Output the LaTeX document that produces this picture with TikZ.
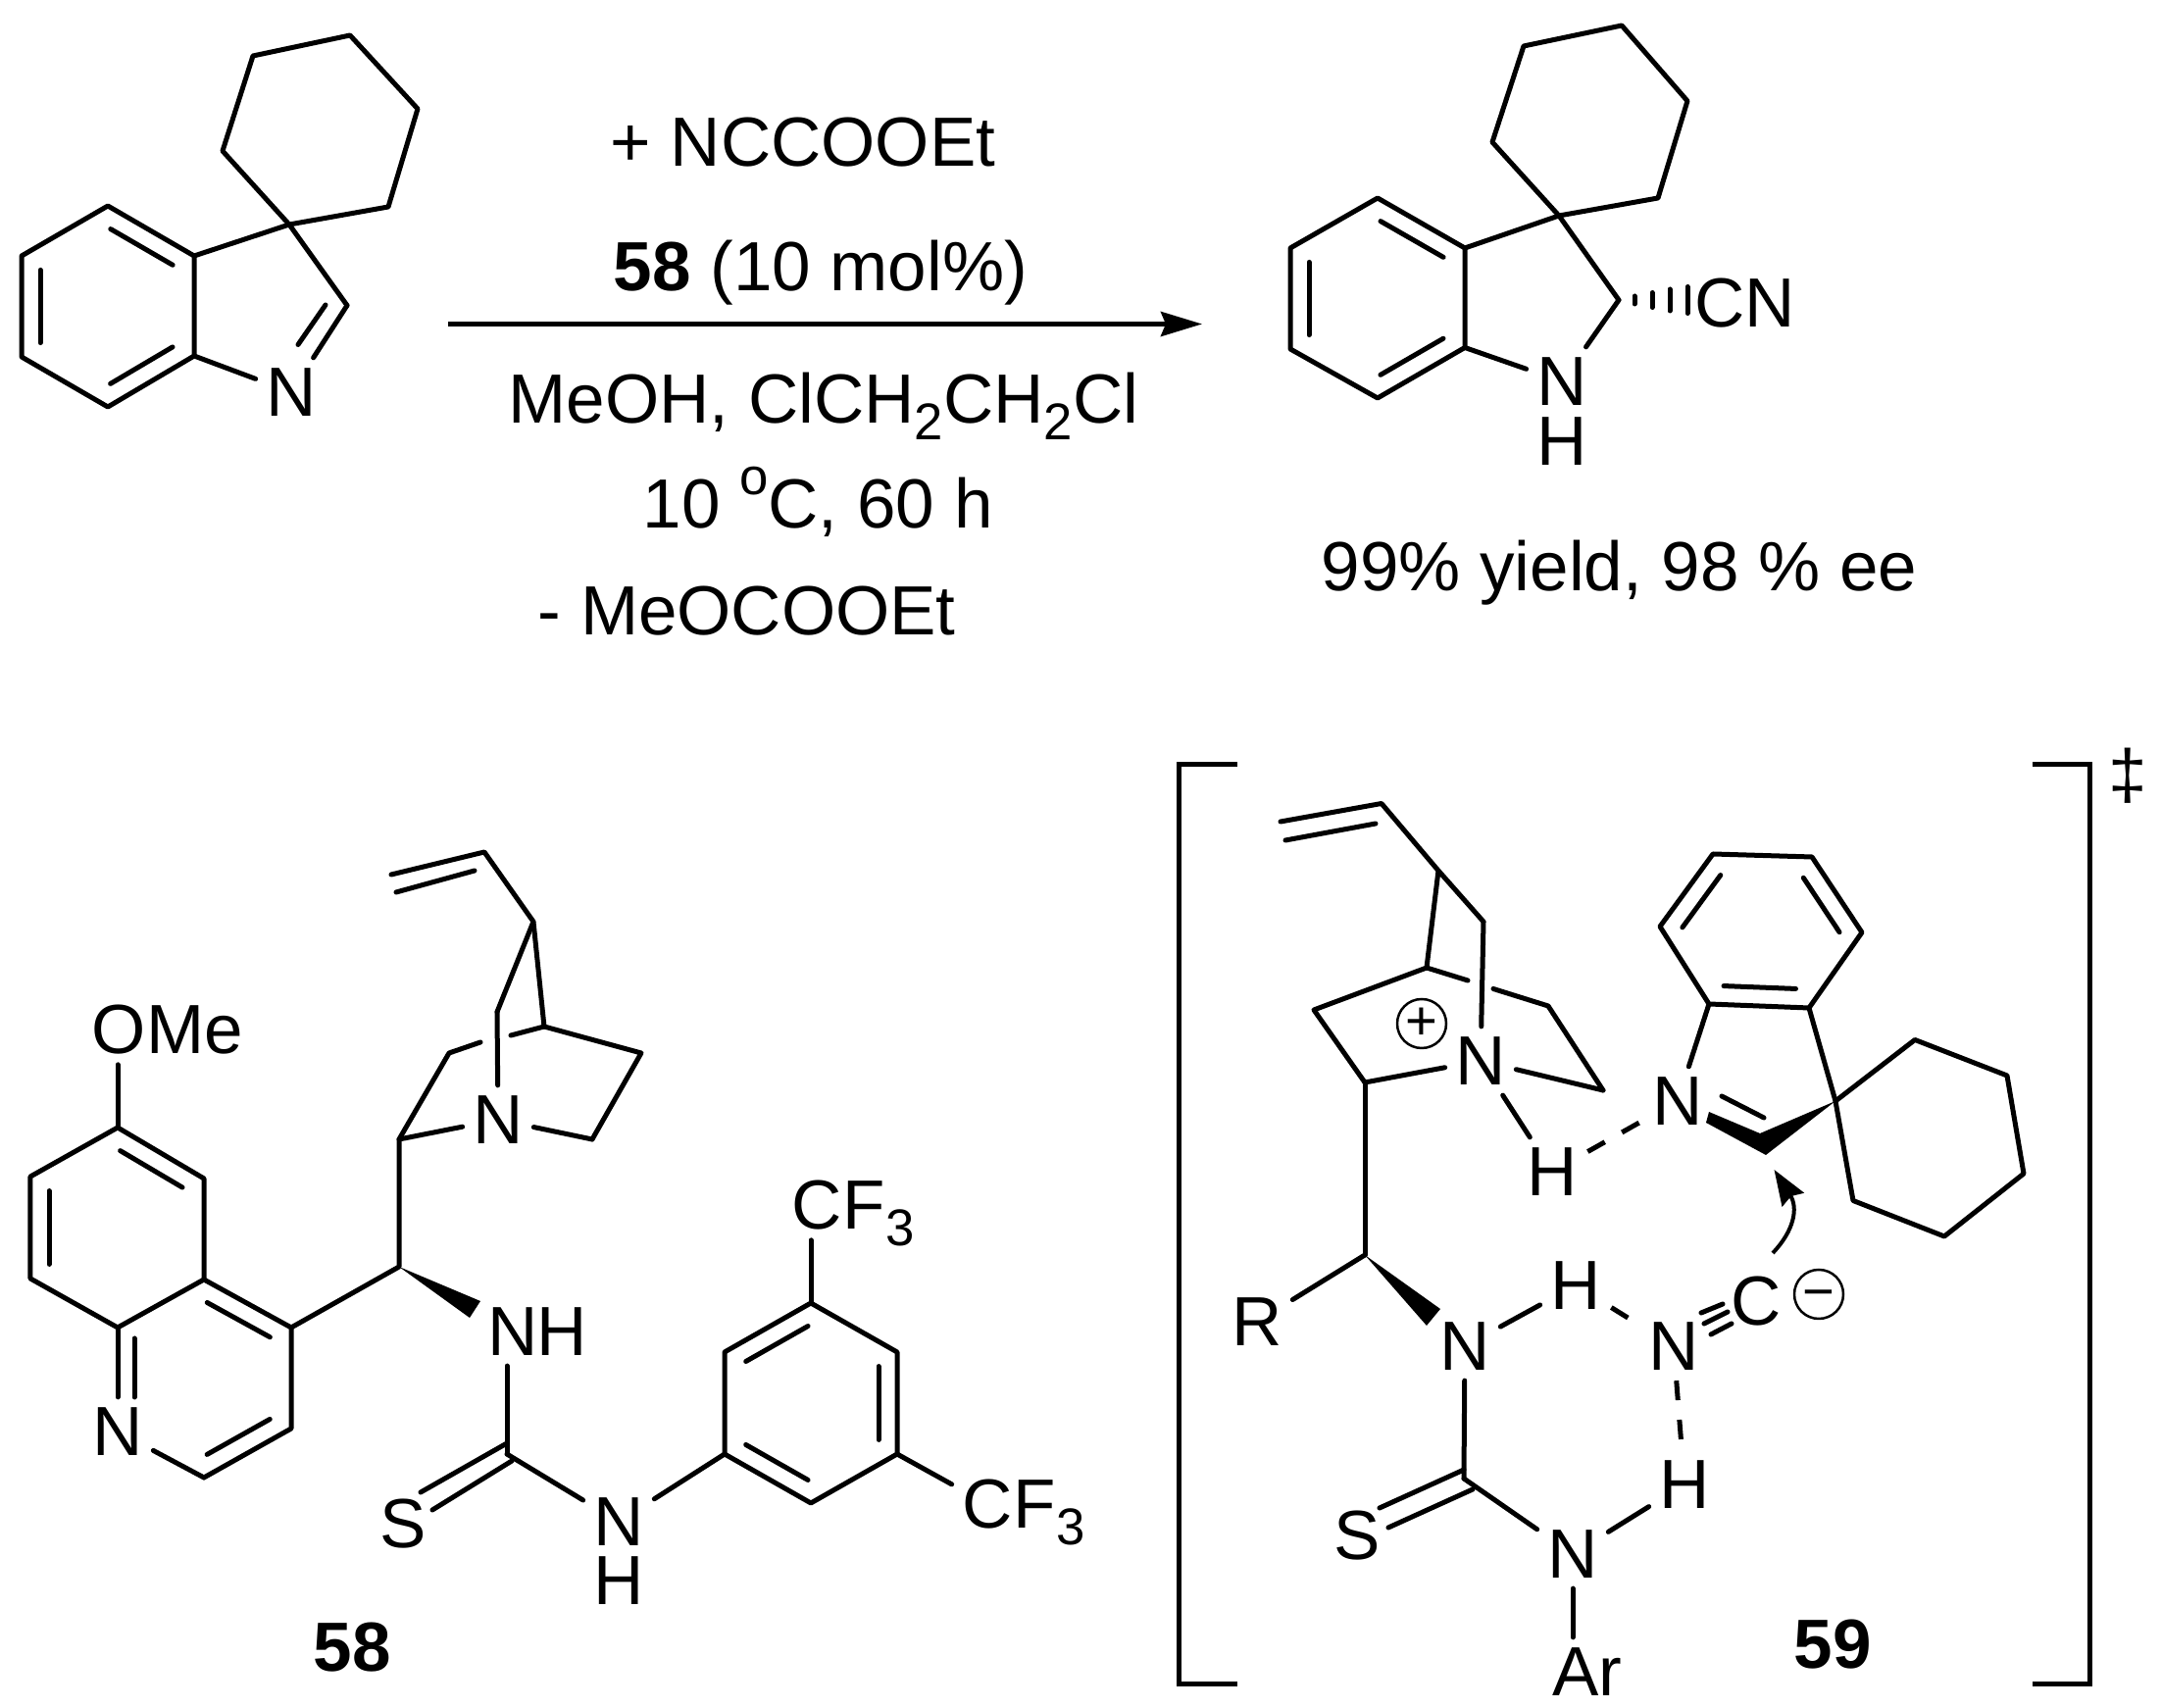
\documentclass[tikz,border=0pt]{standalone}
\usepackage{fontspec}
\setmainfont{Liberation Sans}
\usetikzlibrary{calc,arrows.meta}

\newcommand{\chemsize}{\fontsize{20.2}{24}\selectfont}
\newcommand{\lowidx}[1]{\raisebox{-4.6pt}{\fontsize{15}{15}\selectfont #1}}
\newcommand{\highidx}[1]{\raisebox{9.7pt}{\fontsize{15}{15}\selectfont #1}}
\newcommand{\inbond}[2]{\draw [bond] ($(#1)!0.14!(#2)!0.19cm!90:(#2)$) -- ($(#2)!0.14!(#1)!-0.19cm!90:(#1)$);}

\tikzset{
	bond/.style={line width=.05cm, line cap=round, line join=round},
	hbond/.style={line width=.05cm, dash pattern=on .2cm off .2cm},
	atom/.style={inner sep=.1cm, font=\chemsize},
	txt/.style={inner sep=0pt, anchor=base west, font=\chemsize},
	charge/.style={circle, draw, line width=.025cm, inner sep=0pt, minimum size=.5cm, font=\fontsize{16}{16}\selectfont},
}

\begin{document}
\begin{tikzpicture}[x=1cm,y=-1cm]
	\useasboundingbox (0,0) rectangle (22.04,17.42);

	% reactant
	\coordinate (a1) at (2.58,0.57);
	\coordinate (a2) at (3.57,0.36);
	\coordinate (a3) at (4.26,1.11);
	\coordinate (a4) at (3.96,2.11);
	\coordinate (a5) at (2.95,2.29);
	\coordinate (a6) at (2.27,1.54);
	\coordinate (s1) at (1.10,2.10);
	\coordinate (s2) at (1.98,2.61);
	\coordinate (s3) at (1.98,3.63);
	\coordinate (s4) at (1.10,4.15);
	\coordinate (s5) at (0.22,3.64);
	\coordinate (s6) at (0.22,2.61);
	\coordinate (s7) at (3.54,3.115);
	\coordinate (s8) at (3.32,3.11);
	\coordinate (s9) at (3.04,3.515);
	\node at (2.97,4.00) [atom] (sn) {N};

	\draw [bond] (a1) -- (a2) -- (a3) -- (a4) -- (a5) -- (a6) -- cycle;
	\draw [bond] (s1) -- (s2) -- (s3) -- (s4) -- (s5) -- (s6) -- cycle;
	\draw [bond] (s2) -- (a5) -- (s7);
	\draw [bond] (s7) -- (sn);
	\draw [bond] (s3) -- (sn);
	\draw [bond] (s8) -- (s9);
	\inbond{s2}{s1}
	\inbond{s4}{s3}
	\inbond{s6}{s5}

	% conditions
	\node at (6.22,1.70) [txt] (r1) {+ NCCOOEt};
	\node at (6.25,2.97) [txt] (r2) {\textbf{58} (10 mol\%)};
	\node at (5.18,4.32) [txt] (r3) {MeOH, ClCH\lowidx{2}CH\lowidx{2}Cl};
	\node at (6.55,5.39) [txt] (r4) {10 \highidx{o}C, 60 h};
	\node at (5.48,6.48) [txt] (r5) {- MeOCOOEt};
	\coordinate (r6) at (4.57,3.305);
	\coordinate (r7) at (12.26,3.305);
	\draw [-{Stealth[length=.42cm,width=.25cm,inset=.05cm]}, line width=.05cm] (r6) -- (r7);

	% product
	\coordinate (b1) at (15.54,0.47);
	\coordinate (b2) at (16.54,0.26);
	\coordinate (b3) at (17.21,1.03);
	\coordinate (b4) at (16.91,2.02);
	\coordinate (b5) at (15.90,2.20);
	\coordinate (b6) at (15.22,1.45);
	\coordinate (t1) at (14.05,2.02);
	\coordinate (t2) at (14.94,2.53);
	\coordinate (t3) at (14.94,3.545);
	\coordinate (t4) at (14.05,4.06);
	\coordinate (t5) at (13.16,3.56);
	\coordinate (t6) at (13.16,2.53);
	\coordinate (t7) at (16.51,3.06);
	\node at (15.93,3.89) [atom] (tn) {N};
	\node at (15.93,4.50) [atom, inner sep=0pt] (th) {H};
	\node at (17.80,3.09) [atom] (cn) {CN};
	\node at (13.47,6.03) [txt] (y1) {99\% yield, 98 \% ee};

	\draw [bond] (b1) -- (b2) -- (b3) -- (b4) -- (b5) -- (b6) -- cycle;
	\draw [bond] (t1) -- (t2) -- (t3) -- (t4) -- (t5) -- (t6) -- cycle;
	\draw [bond] (t2) -- (b5) -- (t7);
	\draw [bond] (t7) -- (tn);
	\draw [bond] (t3) -- (tn);
	\inbond{t2}{t1}
	\inbond{t4}{t3}
	\inbond{t6}{t5}
	\draw [bond] ($(t7)+(.16,-.04)$) -- ($(t7)+(.16,.04)$);
	\draw [bond] ($(t7)+(.34,-.075)$) -- ($(t7)+(.34,.075)$);
	\draw [bond] ($(t7)+(.52,-.11)$) -- ($(t7)+(.52,.11)$);
	\draw [bond] ($(t7)+(.70,-.135)$) -- ($(t7)+(.70,.135)$);

	% catalyst
	\coordinate (v1) at (3.99,8.92);
	\coordinate (v2) at (4.94,8.69);
	\coordinate (v3) at (5.44,9.40);
	\coordinate (v4) at (5.07,10.32);
	\coordinate (v5) at (5.55,10.47);
	\coordinate (v6) at (6.54,10.74);
	\coordinate (v7) at (6.04,11.62);
	\coordinate (v8) at (4.58,10.74);
	\coordinate (v9) at (4.07,11.62);
	\coordinate (v10) at (4.07,12.92);
	\coordinate (v11) at (4.04,9.10);
	\coordinate (v12) at (4.84,8.88);
	\coordinate (v13) at (5.21,10.56);
	\coordinate (v14) at (4.90,10.63);
	\coordinate (v15) at (4.90,13.27);
	\coordinate (v16) at (4.79,13.44);
	\node at (5.08,11.42) [atom] (vn) {N};
	\coordinate (q1) at (2.97,13.54);
	\coordinate (q2) at (2.08,13.05);
	\coordinate (q3) at (1.20,13.54);
	\coordinate (q5) at (2.08,15.07);
	\coordinate (q6) at (2.97,14.57);
	\coordinate (q7) at (2.08,12.02);
	\coordinate (q8) at (1.20,11.50);
	\coordinate (q9) at (0.31,12.00);
	\coordinate (q10) at (0.31,13.04);
	\coordinate (q11) at (1.37,13.65);
	\coordinate (q12) at (1.37,14.25);
	\node at (1.20,14.60) [atom] (qn) {N};
	\node at (1.21,10.50) [atom] (qo) {O};
	\node at (1.49,10.75) [txt] (qme) {Me};
	\node at (5.23,13.58) [atom] (u1) {N};
	\node at (5.73,13.58) [atom, inner sep=0pt] (u2) {H};
	\coordinate (u3) at (5.17,14.83);
	\coordinate (u4) at (5.17,14.72);
	\coordinate (u5) at (4.29,15.22);
	\coordinate (u6) at (5.22,14.90);
	\coordinate (u7) at (4.41,15.40);
	\node at (4.11,15.54) [atom] (us) {S};
	\node at (6.31,15.52) [atom] (u8) {N};
	\node at (6.31,16.12) [atom, inner sep=0pt] (u9) {H};
	\coordinate (x1) at (7.39,14.83);
	\coordinate (x2) at (8.27,15.33);
	\coordinate (x3) at (9.15,14.83);
	\coordinate (x4) at (9.15,13.79);
	\coordinate (x5) at (8.27,13.29);
	\coordinate (x6) at (7.39,13.79);
	\node at (8.33,12.29) [atom] (f1) {C};
	\node at (8.59,12.54) [txt] (f2) {F\lowidx{3}};
	\node at (10.07,15.34) [atom] (f3) {C};
	\node at (10.33,15.59) [txt] (f4) {F\lowidx{3}};
	\node at (3.19,17.05) [txt] (l58) {\textbf{58}};

	\draw [bond] (v1) -- (v2) -- (v3) -- (v4);
	\draw [bond] (v11) -- (v12);
	\draw [bond] (v3) -- (v5) -- (v6) -- (v7);
	\draw [bond] (v4) -- (vn);
	\draw [bond] (v7) -- (vn);
	\draw [bond] (v9) -- (vn);
	\draw [bond] (v5) -- (v13);
	\draw [bond] (v14) -- (v8) -- (v9) -- (v10) -- (q1);
	\fill (v10) -- (v15) -- (v16) -- cycle;
	\draw [bond] (q1) -- (q2) -- (q3);
	\draw [bond] (q3) -- (qn);
	\draw [bond] (qn) -- (q5);
	\draw [bond] (q5) -- (q6) -- (q1);
	\draw [bond] (q2) -- (q7) -- (q8) -- (q9) -- (q10) -- (q3);
	\draw [bond] (q8) -- (qo.south -| q8);
	\draw [bond] (q11) -- (q12);
	\inbond{q7}{q8}
	\inbond{q9}{q10}
	\inbond{q1}{q2}
	\inbond{q5}{q6}
	\draw [bond] (u1.south -| u3) -- (u3);
	\draw [bond] (u4) -- (u5);
	\draw [bond] (u6) -- (u7);
	\draw [bond] (u3) -- (u8);
	\draw [bond] (u8) -- (x1);
	\draw [bond] (x1) -- (x2) -- (x3) -- (x4) -- (x5) -- (x6) -- cycle;
	\draw [bond] (x5) -- (f1.south -| x5);
	\draw [bond] (x3) -- (f3);
	\inbond{x5}{x6}
	\inbond{x1}{x2}
	\inbond{x3}{x4}

	% transition state
	\coordinate (k1) at (12.62,7.80);
	\coordinate (k2) at (12.02,7.80);
	\coordinate (k3) at (12.02,17.18);
	\coordinate (k4) at (12.62,17.18);
	\coordinate (k5) at (20.73,7.80);
	\coordinate (k6) at (21.31,7.80);
	\coordinate (k7) at (21.31,17.18);
	\coordinate (k8) at (20.73,17.18);
	\node at (21.70,7.91) [atom] (dg) {‡};
	\draw [line width=.05cm] (k1) -- (k2) -- (k3) -- (k4);
	\draw [line width=.05cm] (k5) -- (k6) -- (k7) -- (k8);

	\coordinate (d1) at (13.06,8.38);
	\coordinate (d2) at (14.09,8.195);
	\coordinate (d3) at (14.67,8.88);
	\coordinate (d4) at (15.13,9.40);
	\coordinate (d5) at (14.55,9.87);
	\coordinate (d6) at (13.40,10.30);
	\coordinate (d7) at (13.92,11.04);
	\coordinate (d8) at (15.79,10.26);
	\coordinate (d9) at (16.35,11.12);
	\coordinate (d10) at (14.97,10.00);
	\coordinate (d11) at (15.23,10.085);
	\coordinate (d12) at (13.11,8.57);
	\coordinate (d13) at (14.03,8.40);
	\node at (15.10,10.82) [atom] (dn) {N};
	\node at (15.83,11.95) [atom] (dh) {H};
	\node at (14.50,10.44) [charge] (dp) {+};
	\node at (17.11,11.23) [atom] (en) {N};
	\coordinate (e1) at (17.43,10.24);
	\coordinate (e2) at (16.93,9.45);
	\coordinate (e3) at (17.47,8.71);
	\coordinate (e4) at (18.48,8.74);
	\coordinate (e5) at (18.99,9.51);
	\coordinate (e6) at (18.45,10.28);
	\coordinate (e7) at (18.72,11.23);
	\coordinate (e8) at (17.43,11.34);
	\coordinate (e9) at (17.95,11.56);
	\coordinate (e10) at (18.01,11.78);
	\coordinate (e11) at (17.40,11.45);
	\coordinate (e12) at (17.56,11.18);
	\coordinate (e13) at (17.99,11.40);
	\coordinate (f5) at (19.53,10.605);
	\coordinate (f6) at (20.47,10.97);
	\coordinate (f7) at (20.64,11.97);
	\coordinate (f8) at (19.83,12.61);
	\coordinate (f9) at (18.90,12.245);
	\coordinate (g1) at (13.92,12.80);
	\coordinate (g2) at (14.69,13.35);
	\coordinate (g3) at (14.55,13.52);
	\node at (12.82,13.48) [atom] (gr) {R};
	\node at (14.94,13.73) [atom] (g4) {N};
	\node at (16.07,13.11) [atom] (g5) {H};
	\node at (17.07,13.73) [atom] (g6) {N};
	\node at (17.91,13.27) [atom] (g7) {C};
	\node at (18.55,13.20) [charge] (gm) {\vphantom{+}−};
	\coordinate (g8) at (17.35,13.39);
	\coordinate (g9) at (17.57,13.30);
	\coordinate (g10) at (17.38,13.50);
	\coordinate (g11) at (17.62,13.38);
	\coordinate (g12) at (17.45,13.61);
	\coordinate (g13) at (17.66,13.50);
	\coordinate (g14) at (18.08,12.78);
	\coordinate (g15) at (18.095,11.93);
	\coordinate (h1) at (14.93,15.08);
	\coordinate (h2) at (14.93,14.99);
	\coordinate (h3) at (14.07,15.38);
	\coordinate (h4) at (15.02,15.19);
	\coordinate (h5) at (14.16,15.58);
	\node at (13.84,15.66) [atom] (hs) {S};
	\node at (16.04,15.85) [atom] (h6) {N};
	\node at (17.18,15.14) [atom] (h7) {H};
	\node at (16.19,17.05) [atom] (har) {Ar};
	\node at (18.29,17.02) [txt] (l59) {\textbf{59}};

	\draw [bond] (d1) -- (d2) -- (d3) -- (d4);
	\draw [bond] (d12) -- (d13);
	\draw [bond] (d3) -- (d5) -- (d6) -- (d7);
	\draw [bond] (d4) -- (dn);
	\draw [bond] (d7) -- (dn);
	\draw [bond] (d5) -- (d10);
	\draw [bond] (d11) -- (d8) -- (d9);
	\draw [bond] (d9) -- (dn);
	\draw [bond] (dn) -- (dh);
	\draw [hbond] (dh) -- (en);
	\draw [bond] (e1) -- (e2) -- (e3) -- (e4) -- (e5) -- (e6) -- cycle;
	\draw [bond] (e1) -- (en);
	\draw [bond] (e6) -- (e7);
	\draw [bond] (e7) -- (f5) -- (f6) -- (f7) -- (f8) -- (f9) -- cycle;
	\fill (e8) -- (e9) -- (e7) -- (e10) -- (e11) -- cycle;
	\draw [bond] (e12) -- (e13);
	\inbond{e3}{e2}
	\inbond{e1}{e6}
	\inbond{e5}{e4}
	\draw [bond] (d7) -- (g1);
	\draw [bond] (g1) -- (gr);
	\fill (g1) -- (g2) -- (g3) -- cycle;
	\draw [bond] (g4) -- (g5);
	\draw [hbond] (g5) -- (g6);
	\draw [hbond] (g6) -- (h7);
	\draw [bond] (g8) -- (g9);
	\draw [bond] (g10) -- (g11);
	\draw [bond] (g12) -- (g13);
	\draw [bond] (g4) -- (h1);
	\draw [bond] (h2) -- (h3);
	\draw [bond] (h4) -- (h5);
	\draw [bond] (h1) -- (h6);
	\draw [bond] (h6) -- (h7);
	\draw [bond] (h6) -- (har.north -| h6);
	\draw [-{Stealth[length=.36cm,width=.26cm,inset=.04cm]}, line width=.04cm] (g14) .. controls (18.30,12.55) and (18.34,12.32) .. (g15);
\end{tikzpicture}
\end{document}
